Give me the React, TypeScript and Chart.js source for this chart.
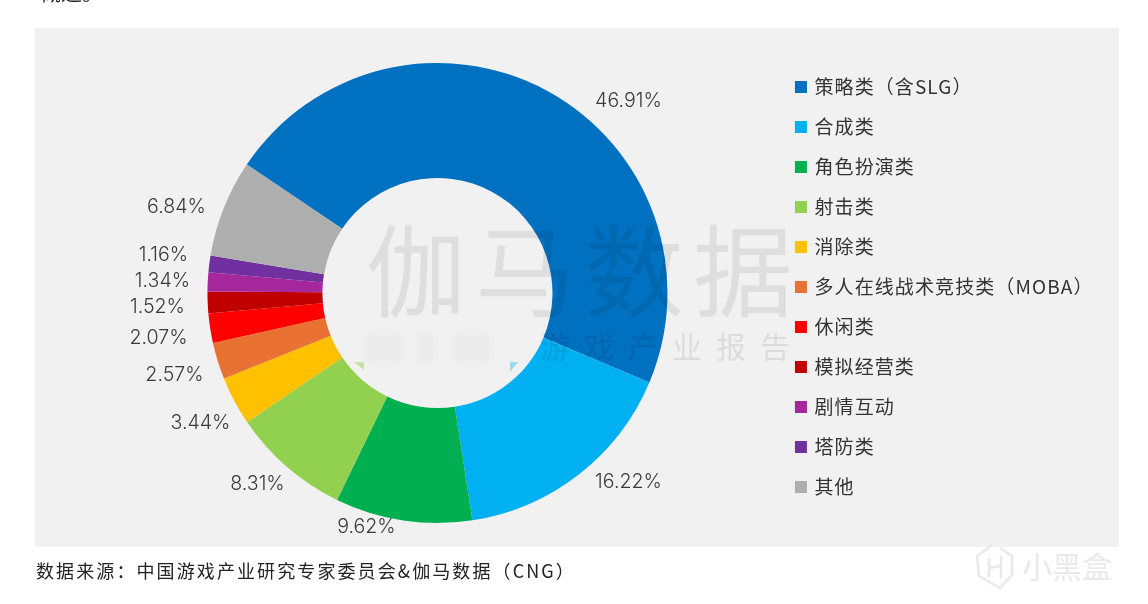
import React, { useEffect, useRef } from "react";
import { Chart, registerables } from "chart.js";

Chart.register(...registerables);

const categories = ["策略类（含SLG）", "合成类", "角色扮演类", "射击类", "消除类", "多人在线战术竞技类（MOBA）", "休闲类", "模拟经营类", "剧情互动", "塔防类", "其他"];
const shares = [46.91, 16.22, 9.62, 8.31, 3.44, 2.57, 2.07, 1.52, 1.34, 1.16, 6.84];
const colors = ["#0070C0", "#00B0F0", "#00B050", "#92D050", "#FFC000", "#E97132", "#FF0000", "#C00000", "#A6279C", "#7030A0", "#AEAEAE"];
const labelOffsets = [[191, -192], [191, 189], [-71, 234], [-180, 191], [-237, 130], [-263, 82], [-279, 45], [-280, 14], [-275, -12], [-274, -38], [-261, -86]];
const sourceNote = "数据来源：中国游戏产业研究专家委员会&伽马数据（CNG）";
const clippedTopText = "概述。";
const watermarkMain = "伽马数据";
const watermarkSub = "游戏产业报告";
const badgeText = "小黑盒";

const CJK = '"Noto Sans CJK SC", "Noto Sans", sans-serif';

const backdrop = {
  id: "backdrop",
  beforeDraw(chart: any) {
    const c = chart.ctx;
    c.save();
    c.fillStyle = "#ffffff";
    c.fillRect(0, 0, 1148, 604);
    c.fillStyle = "#f1f1f1";
    c.fillRect(35, 28, 1084, 519);
    c.fillStyle = "#222";
    c.font = `21px ${CJK}`;
    c.textBaseline = "alphabetic";
    c.fillText(clippedTopText, 40, 0);
    c.restore();
    c.letterSpacing = "1.1px";
  },
};

const overlay = {
  id: "overlay",
  afterLayout(chart: any) {
    chart.legend.top -= 6;
    chart.legend.bottom -= 6;
  },
  afterDatasetsDraw(chart: any) {
    const c = chart.ctx;
    const arcs = chart.getDatasetMeta(0).data;
    c.save();
    c.letterSpacing = "0px";

    c.fillStyle = "#3a3a3a";
    c.font = "300 19.6px Inter, sans-serif";
    c.textAlign = "center";
    c.textBaseline = "middle";
    shares.forEach((v, i) => {
      const [dx, dy] = labelOffsets[i];
      c.fillText(`${v.toFixed(2)}%`, arcs[0].x + dx, arcs[0].y + dy);
    });

    // faded report watermark
    c.textAlign = "left";
    c.textBaseline = "alphabetic";
    c.fillStyle = "rgba(0,0,0,0.08)";
    c.font = `100px ${CJK}`;
    c.letterSpacing = "9px";
    c.fillText(watermarkMain, 366, 309);
    c.fillStyle = "rgba(0,0,0,0.09)";
    c.font = `30px ${CJK}`;
    c.letterSpacing = "14px";
    c.fillText(watermarkSub, 540, 358);
    c.letterSpacing = "0px";

    // blurred-out patch
    c.fillStyle = "#f1f1f1";
    c.fillRect(364, 326, 156, 38);
    c.filter = "blur(3px)";
    c.fillStyle = "#ebebeb";
    c.fillRect(366, 334, 36, 28);
    c.fillRect(418, 334, 18, 28);
    c.fillRect(454, 334, 38, 28);
    c.filter = "none";
    c.fillStyle = "rgba(146,208,80,0.45)";
    c.beginPath(); c.moveTo(354, 362); c.lineTo(364, 362); c.lineTo(364, 370); c.fill();
    c.fillStyle = "rgba(0,176,240,0.35)";
    c.beginPath(); c.moveTo(510, 362); c.lineTo(518, 362); c.lineTo(510, 372); c.fill();

    // source line
    c.fillStyle = "#222";
    c.font = `18px ${CJK}`;
    c.letterSpacing = "2.1px";
    c.textBaseline = "middle";
    c.fillText(sourceNote, 36, 571);
    c.letterSpacing = "0px";

    // site badge
    c.strokeStyle = "rgba(232,232,232,0.95)";
    c.lineWidth = 2.5;
    c.beginPath();
    c.moveTo(992, 545); c.lineTo(977, 556); c.lineTo(979, 576); c.lineTo(1000, 588); c.lineTo(1012, 575); c.lineTo(1012, 556); c.lineTo(1000, 548);
    c.moveTo(989, 558); c.lineTo(989, 578);
    c.moveTo(1001, 556); c.lineTo(1001, 578);
    c.moveTo(989, 568); c.lineTo(1001, 566);
    c.stroke();
    c.fillStyle = "rgba(232,232,232,0.95)";
    c.font = `30px ${CJK}`;
    c.fillText(badgeText, 1022, 567);
    c.restore();
  },
};

export default function App() {
  const ref = useRef<HTMLCanvasElement | null>(null);
  useEffect(() => {
    document.body.style.margin = "0";
    const chart = new Chart(ref.current!, {
      type: "doughnut",
      data: {
        labels: categories,
        datasets: [{ data: shares, backgroundColor: colors, borderWidth: 0 }],
      },
      plugins: [backdrop, overlay],
      options: {
        animation: false,
        responsive: false,
        devicePixelRatio: 1,
        rotation: -56,
        cutout: "50%",
        radius: 230,
        layout: { padding: { left: 99, right: 61, top: 53, bottom: 71 } },
        plugins: {
          tooltip: { enabled: false },
          title: { display: false },
          legend: {
            position: "right",
            align: "center",
            labels: {
              boxWidth: 8,
              boxHeight: 8,
              padding: 21,
              color: "#333",
              font: { size: 19, family: CJK },
              generateLabels(chart: any) {
                return Chart.overrides.doughnut.plugins.legend.labels
                  .generateLabels(chart)
                  .map((item: any) => ({ ...item, lineWidth: 4, strokeStyle: item.fillStyle }));
              },
            },
          },
        },
      },
    } as any);
    return () => chart.destroy();
  }, []);
  return <canvas ref={ref} width={1148} height={604} style={{ display: "block" }} />;
}
